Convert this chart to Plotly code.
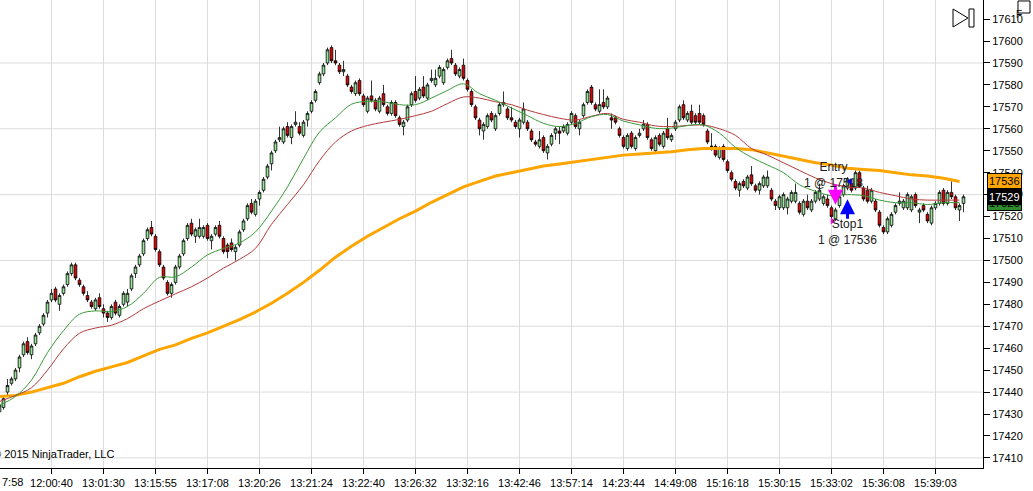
import plotly.graph_objects as go

# bar data (bar 0 is the half-cut candle at the left edge)
opens = [17431, 17433, 17440, 17444, 17446, 17451, 17457, 17463, 17457, 17462,
         17467, 17471, 17476, 17482, 17487, 17480, 17485, 17489, 17494, 17498,
         17491, 17488, 17484, 17481, 17478, 17483, 17478, 17476, 17474, 17481,
         17475, 17480, 17481, 17487, 17494, 17498, 17503, 17510, 17515, 17511,
         17504, 17497, 17490, 17485, 17490, 17497, 17503, 17510, 17517, 17511,
         17511, 17511, 17516, 17509, 17512, 17516, 17510, 17507, 17508, 17504,
         17507, 17514, 17519, 17526, 17521, 17528, 17532, 17538, 17544, 17550,
         17555, 17554, 17561, 17556, 17562, 17561, 17557, 17564, 17568, 17573,
         17581, 17585, 17590, 17597, 17591, 17589, 17586, 17584, 17579, 17576,
         17582, 17575, 17568, 17575, 17573, 17568, 17576, 17570, 17567, 17572,
         17565, 17561, 17564, 17571, 17577, 17574, 17579, 17574, 17582, 17580,
         17584, 17581, 17588, 17592, 17589, 17584, 17589, 17582, 17577, 17570,
         17564, 17559, 17561, 17567, 17560, 17567, 17571, 17569, 17565, 17563,
         17560, 17563, 17563, 17559, 17554, 17552, 17556, 17549, 17553, 17558,
         17559, 17559, 17558, 17563, 17566, 17560, 17566, 17572, 17579, 17571,
         17568, 17572, 17570, 17565, 17565, 17560, 17556, 17551, 17558, 17551,
         17557, 17560, 17562, 17555, 17550, 17557, 17552, 17560, 17555, 17560,
         17564, 17571, 17564, 17568, 17566, 17567, 17566, 17559, 17552, 17552,
         17547, 17552, 17545, 17540, 17536, 17532, 17536, 17533, 17539, 17534,
         17532, 17534, 17534, 17532, 17527, 17524, 17524, 17524, 17527, 17527,
         17526, 17521, 17527, 17523, 17527, 17528, 17526, 17528, 17524, 17519,
         17525, 17530, 17533, 17535, 17533, 17540, 17533, 17532, 17527, 17527,
         17522, 17515, 17513, 17516, 17522, 17526, 17524, 17524, 17523, 17530,
         17522, 17525, 17521, 17517, 17524, 17526, 17532, 17526, 17531, 17529,
         17523, 17526]
highs = [17436, 17438, 17446, 17447, 17451, 17457, 17463, 17465, 17462, 17467,
         17471, 17476, 17482, 17487, 17488, 17485, 17489, 17495, 17499, 17499,
         17492, 17489, 17486, 17482, 17483, 17485, 17480, 17477, 17480, 17482,
         17480, 17486, 17487, 17494, 17498, 17503, 17510, 17515, 17518, 17512,
         17505, 17498, 17491, 17490, 17498, 17503, 17510, 17517, 17519, 17515,
         17519, 17516, 17517, 17512, 17516, 17518, 17511, 17508, 17510, 17507,
         17514, 17519, 17526, 17528, 17528, 17532, 17538, 17544, 17550, 17555,
         17561, 17561, 17563, 17562, 17568, 17563, 17564, 17568, 17573, 17578,
         17586, 17590, 17597, 17598, 17596, 17590, 17591, 17585, 17580, 17582,
         17583, 17576, 17575, 17582, 17574, 17575, 17580, 17571, 17573, 17573,
         17566, 17564, 17571, 17577, 17584, 17579, 17584, 17581, 17587, 17587,
         17589, 17588, 17592, 17596, 17590, 17588, 17592, 17583, 17578, 17571,
         17565, 17563, 17567, 17568, 17567, 17572, 17577, 17570, 17570, 17564,
         17565, 17572, 17564, 17560, 17555, 17559, 17557, 17553, 17558, 17561,
         17561, 17562, 17563, 17568, 17567, 17564, 17572, 17578, 17580, 17572,
         17578, 17578, 17575, 17567, 17566, 17561, 17557, 17558, 17559, 17557,
         17560, 17564, 17563, 17556, 17557, 17558, 17559, 17565, 17558, 17564,
         17571, 17573, 17568, 17571, 17567, 17571, 17567, 17560, 17558, 17553,
         17552, 17553, 17546, 17541, 17537, 17536, 17537, 17539, 17543, 17535,
         17536, 17539, 17541, 17533, 17528, 17530, 17531, 17529, 17532, 17535,
         17527, 17528, 17530, 17528, 17532, 17535, 17530, 17530, 17525, 17524,
         17530, 17535, 17538, 17537, 17541, 17541, 17534, 17534, 17533, 17528,
         17523, 17516, 17520, 17522, 17526, 17531, 17528, 17531, 17530, 17531,
         17524, 17526, 17522, 17525, 17527, 17532, 17533, 17532, 17536, 17530,
         17526, 17530]
lows = [17428, 17432, 17438, 17443, 17445, 17449, 17456, 17457, 17455, 17461,
        17466, 17470, 17474, 17481, 17481, 17477, 17484, 17488, 17493, 17491,
        17488, 17484, 17481, 17478, 17477, 17478, 17474, 17472, 17473, 17475,
        17474, 17479, 17479, 17486, 17492, 17497, 17502, 17509, 17511, 17504,
        17497, 17491, 17484, 17483, 17489, 17496, 17502, 17509, 17511, 17508,
        17510, 17510, 17509, 17505, 17511, 17510, 17503, 17501, 17504, 17500,
        17506, 17513, 17518, 17521, 17520, 17525, 17531, 17537, 17541, 17549,
        17554, 17553, 17556, 17553, 17561, 17557, 17556, 17561, 17567, 17572,
        17580, 17584, 17589, 17590, 17589, 17585, 17584, 17579, 17576, 17575,
        17575, 17570, 17567, 17572, 17568, 17567, 17570, 17566, 17566, 17565,
        17561, 17557, 17563, 17570, 17572, 17573, 17574, 17573, 17581, 17579,
        17583, 17580, 17587, 17589, 17584, 17583, 17582, 17577, 17570, 17564,
        17557, 17555, 17560, 17563, 17559, 17566, 17570, 17564, 17563, 17560,
        17556, 17562, 17559, 17554, 17552, 17551, 17549, 17546, 17552, 17555,
        17553, 17558, 17557, 17562, 17560, 17557, 17565, 17571, 17571, 17568,
        17567, 17569, 17569, 17560, 17562, 17556, 17551, 17550, 17551, 17550,
        17556, 17559, 17555, 17550, 17549, 17552, 17551, 17555, 17554, 17559,
        17563, 17564, 17563, 17562, 17562, 17562, 17561, 17553, 17550, 17547,
        17546, 17545, 17540, 17536, 17532, 17529, 17533, 17532, 17534, 17531,
        17530, 17533, 17533, 17527, 17523, 17523, 17523, 17521, 17526, 17526,
        17521, 17520, 17523, 17522, 17526, 17527, 17525, 17524, 17517, 17518,
        17524, 17529, 17532, 17531, 17532, 17533, 17527, 17526, 17526, 17522,
        17515, 17512, 17512, 17515, 17521, 17525, 17523, 17523, 17522, 17524,
        17517, 17522, 17517, 17516, 17523, 17525, 17525, 17525, 17528, 17523,
        17518, 17522]
closes = [17434, 17437, 17443, 17446, 17450, 17456, 17462, 17458, 17461, 17466,
          17470, 17475, 17481, 17485, 17482, 17484, 17488, 17494, 17498, 17492,
          17489, 17485, 17482, 17479, 17482, 17479, 17476, 17474, 17479, 17476,
          17479, 17485, 17485, 17493, 17497, 17502, 17509, 17514, 17512, 17505,
          17498, 17492, 17485, 17489, 17497, 17502, 17509, 17516, 17512, 17514,
          17515, 17515, 17510, 17511, 17515, 17511, 17504, 17504, 17505, 17506,
          17513, 17518, 17525, 17522, 17527, 17531, 17537, 17543, 17549, 17554,
          17556, 17560, 17557, 17561, 17563, 17558, 17563, 17567, 17572, 17577,
          17585, 17589, 17596, 17591, 17590, 17586, 17587, 17580, 17577, 17581,
          17576, 17571, 17574, 17573, 17569, 17574, 17571, 17567, 17572, 17566,
          17562, 17563, 17570, 17576, 17573, 17578, 17575, 17580, 17583, 17583,
          17588, 17587, 17591, 17590, 17585, 17587, 17583, 17578, 17571, 17565,
          17560, 17562, 17566, 17564, 17566, 17571, 17572, 17565, 17564, 17561,
          17564, 17569, 17560, 17555, 17553, 17555, 17550, 17552, 17557, 17560,
          17558, 17561, 17562, 17567, 17561, 17563, 17571, 17577, 17572, 17569,
          17571, 17570, 17574, 17564, 17563, 17557, 17552, 17557, 17552, 17556,
          17558, 17562, 17556, 17551, 17556, 17553, 17558, 17556, 17557, 17563,
          17570, 17565, 17567, 17563, 17563, 17563, 17562, 17554, 17552, 17548,
          17551, 17546, 17541, 17537, 17533, 17535, 17534, 17538, 17535, 17532,
          17535, 17538, 17538, 17528, 17525, 17529, 17530, 17528, 17531, 17531,
          17522, 17527, 17524, 17527, 17531, 17532, 17529, 17525, 17520, 17523,
          17529, 17534, 17537, 17532, 17540, 17534, 17528, 17527, 17532, 17523,
          17516, 17513, 17519, 17521, 17525, 17527, 17527, 17530, 17529, 17525,
          17523, 17523, 17518, 17524, 17526, 17531, 17526, 17531, 17529, 17524,
          17525, 17529]

# indicator lines, read every 4th bar
ema_fast = [17434, 17438, 17445.5, 17458, 17468, 17475.5, 17477, 17476.7, 17479, 17485,
            17492.3, 17492.5, 17497, 17502.5, 17505.5, 17508, 17513, 17522.5, 17533.5, 17546.5,
            17558.5, 17565, 17571.2, 17572.5, 17572.3, 17571, 17571, 17574, 17577.5, 17580.5,
            17576, 17573, 17569.5, 17566, 17562.5, 17561, 17562.5, 17565.5, 17566.5, 17563.5,
            17561.8, 17560.2, 17560.3, 17561.5, 17561.7, 17558, 17551.5, 17547, 17543.5, 17540,
            17534.5, 17531.5, 17529.5, 17530, 17529.5, 17527.5, 17526.3, 17526.3, 17525.5, 17526.3,
            17526.3]
ema_slow = [17435.7, 17438.5, 17442, 17450, 17459.7, 17466.8, 17469.2, 17470.5, 17473.5, 17478,
            17481.5, 17484.8, 17488, 17492, 17496.5, 17500.5, 17505.5, 17516.5, 17525.5, 17534.5,
            17545.5, 17554, 17559, 17561.5, 17563, 17564.3, 17566, 17568, 17571.5, 17574.5,
            17574, 17572.3, 17571, 17568.5, 17566.5, 17564.8, 17564, 17565.7, 17567, 17564.3,
            17563, 17561.3, 17561, 17561.5, 17561.7, 17560, 17557, 17551, 17548, 17544.5,
            17541, 17537.6, 17535, 17533.5, 17533, 17531, 17529.5, 17528, 17527.5, 17527.5,
            17527.5]
sma_slow = [17438, 17438.5, 17440, 17442, 17444, 17447, 17449.5, 17451.5, 17453.5, 17456.5,
            17459.5, 17461.5, 17464.5, 17467, 17470, 17473, 17476.5, 17480.5, 17485, 17490,
            17495.5, 17501.5, 17506.5, 17511, 17515, 17519, 17522.5, 17526.5, 17530, 17533.5,
            17536, 17538.5, 17540, 17541.5, 17543, 17544, 17545, 17546, 17547, 17548,
            17548.5, 17549, 17549.5, 17550.5, 17551, 17551, 17551, 17550.5, 17549, 17547.5,
            17546, 17544.5, 17543.5, 17542, 17541.5, 17541, 17540, 17539, 17538.5, 17537.5,
            17536]

tick_bars = [0, 13, 26, 39, 52, 65, 78, 91, 104, 117, 130, 143, 156, 169, 182, 195, 208, 221, 234]
tick_text = ['11:57:58', '12:00:40', '13:01:30', '13:15:55', '13:17:08', '13:20:26', '13:21:24',
             '13:22:40', '13:26:32', '13:32:16', '13:42:46', '13:57:14', '14:23:44', '14:49:08',
             '15:16:18', '15:30:15', '15:33:02', '15:36:08', '15:39:03']

# the trade
entry_bar, entry_price = 209, 17518
stop_bar, stop_price = 212, 17536

bars = list(range(len(closes)))
ind_bars = list(range(0, len(closes), 4))[:len(ema_fast)]

FONT = 'Liberation Sans, Arial, sans-serif'
y_lo, y_hi = 17405.4, 17618.7

fig = go.Figure()

fig.add_trace(go.Scatter(x=ind_bars, y=sma_slow, mode='lines',
                         line=dict(color='#FFA500', width=3), hoverinfo='skip'))
fig.add_trace(go.Scatter(x=ind_bars, y=ema_slow, mode='lines', line_shape='spline',
                         line=dict(color='#B23A3A', width=1), hoverinfo='skip'))
fig.add_trace(go.Scatter(x=ind_bars, y=ema_fast, mode='lines', line_shape='spline',
                         line=dict(color='#3A9A3A', width=1), hoverinfo='skip'))

fig.add_trace(go.Candlestick(
    x=bars, open=opens, high=highs, low=lows, close=closes,
    increasing=dict(fillcolor='#98E698', line=dict(color='black', width=0.8)),
    decreasing=dict(fillcolor='#E00000', line=dict(color='black', width=0.8)),
    whiskerwidth=0,
))

# execution triangles
fig.add_trace(go.Scatter(x=[entry_bar - 0.8], y=[entry_price], mode='markers',
                         marker=dict(symbol='triangle-right', size=6, color='#FF00FF')))
fig.add_trace(go.Scatter(x=[stop_bar + 0.6], y=[stop_price], mode='markers',
                         marker=dict(symbol='triangle-left', size=6, color='#0000FF')))

# trade arrows
fig.add_annotation(x=entry_bar, y=highs[entry_bar], yshift=3, ax=0, ay=-22, text='',
                   showarrow=True, arrowhead=2, arrowsize=1, arrowwidth=3, arrowcolor='#FF00FF')
fig.add_annotation(x=stop_bar, y=lows[stop_bar], yshift=-9, ax=0, ay=21, text='',
                   showarrow=True, arrowhead=2, arrowsize=1, arrowwidth=3, arrowcolor='#0000FF')
fig.add_annotation(x=entry_bar - 0.5, y=entry_price, yshift=46, text='Entry<br>1 @ ' + str(entry_price),
                   showarrow=False, font=dict(family=FONT, size=12, color='#202020'))
fig.add_annotation(x=stop_bar, y=stop_price, yshift=-51, text='Stop1<br>1 @ ' + str(stop_price),
                   showarrow=False, font=dict(family=FONT, size=12, color='#202020'))

# horizontal grid every 30 points
for g in range(17410, 17611, 30):
    fig.add_shape(type='line', xref='paper', x0=0, x1=1, yref='y', y0=g, y1=g,
                  line=dict(color='#DCDCDC', width=1), layer='below')

# last value labels on the price axis
for val, bg, fg in [(ema_fast[-1], '#2E8B2E', 'black'), (closes[-1], 'black', 'white'),
                    (sma_slow[-1], '#FFA500', 'black')]:
    fig.add_annotation(x=1, xref='paper', xanchor='left', xshift=4, y=val, yref='y',
                       text=str(int(round(val))), showarrow=False, bgcolor=bg,
                       bordercolor='black', borderwidth=1, borderpad=1,
                       font=dict(family=FONT, size=11, color=fg))

# copyright and cut-off first time label
fig.add_annotation(x=0, xref='paper', xanchor='left', xshift=-9, y=0.013, yref='paper',
                   text='© 2015 NinjaTrader, LLC', showarrow=False,
                   font=dict(family=FONT, size=11, color='black'))
fig.add_annotation(x=0, xref='paper', xanchor='left', y=0, yref='paper', yanchor='top', yshift=-6,
                   text='7:58', showarrow=False, font=dict(family=FONT, size=11, color='black'))

# chart trader icons
fig.add_shape(type='path', xref='paper', yref='paper',
              path='M 0.9695 0.9808 L 0.9847 0.9615 L 0.9695 0.9423 Z',
              line=dict(color='black', width=1))
fig.add_shape(type='rect', xref='paper', yref='paper', x0=0.9858, x1=0.9908, y0=0.9423, y1=0.9808,
              line=dict(color='black', width=1))
fig.add_shape(type='rect', xref='paper', yref='paper', x0=1.0356, x1=1.0478, y0=0.9722, y1=0.9979,
              line=dict(color='black', width=1))
fig.add_annotation(x=1.0417, xref='paper', y=0.985, yref='paper', text='F', showarrow=False,
                   font=dict(family=FONT, size=10, color='black'))

fig.update_layout(
    width=1033, height=491,
    margin=dict(l=0, r=50, t=0, b=23),
    paper_bgcolor='white', plot_bgcolor='white',
    showlegend=False,
    boxgap=0.05,
    font=dict(family=FONT, size=11, color='black'),
    xaxis=dict(range=[0.125, 245.875], rangeslider=dict(visible=False),
               tickmode='array', tickvals=tick_bars, ticktext=tick_text,
               showgrid=True, gridcolor='#DCDCDC', gridwidth=1,
               ticks='outside', ticklen=5, tickcolor='black',
               showline=True, linecolor='black', linewidth=1, zeroline=False),
    yaxis=dict(range=[y_lo, y_hi], side='right', dtick=10, tick0=17410, tickformat='d',
               showgrid=False, ticks='outside', ticklen=6, tickcolor='black',
               showline=True, linecolor='black', linewidth=1, zeroline=False),
)

fig.write_html("out.html", config={'displayModeBar': False},
               post_script="document.body.style.margin='0';")
